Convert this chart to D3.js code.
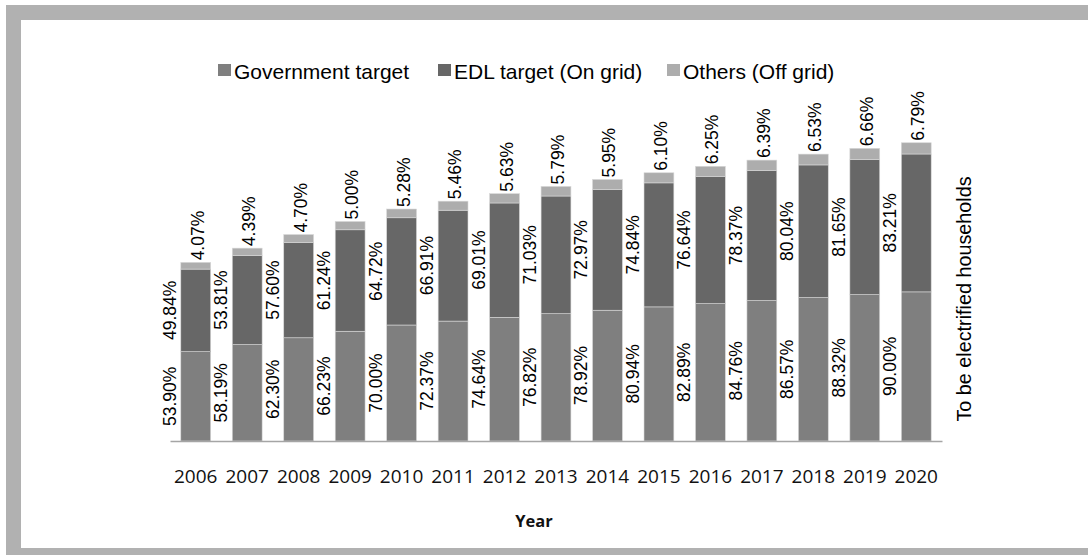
<!DOCTYPE html>
<html>
<head>
<meta charset="utf-8">
<script src="https://cdn.jsdelivr.net/npm/d3@7"></script>
<style>
  html, body { margin: 0; padding: 0; background: #fff; }
  svg { display: block; }
</style>
</head>
<body>
<svg id="chart" width="1088" height="555"></svg>
<script>
// Household electrification targets by year (percent)
const years = ["2006","2007","2008","2009","2010","2011","2012","2013","2014","2015","2016","2017","2018","2019","2020"];
const governmentTarget = [53.90,58.19,62.30,66.23,70.00,72.37,74.64,76.82,78.92,80.94,82.89,84.76,86.57,88.32,90.00];
const edlTarget = [49.84,53.81,57.60,61.24,64.72,66.91,69.01,71.03,72.97,74.84,76.64,78.37,80.04,81.65,83.21];
const othersOffGrid = [4.07,4.39,4.70,5.00,5.28,5.46,5.63,5.79,5.95,6.10,6.25,6.39,6.53,6.66,6.79];
const seriesNames = ["Government target","EDL target (On grid)","Others (Off grid)"];
const seriesColors = ["#7f7f7f","#676767","#adadad"];

const svg = d3.select("#chart");
const labelFont = "'Liberation Sans', Arial, sans-serif";
const tickFont = "'Open Sans', sans-serif";

// frame
svg.append("rect").attr("x", 6).attr("y", 5).attr("width", 1082).attr("height", 15).attr("fill", "#b1b1b1");
svg.append("rect").attr("x", 6).attr("y", 5).attr("width", 15).attr("height", 550).attr("fill", "#b1b1b1");
svg.append("rect").attr("x", 6).attr("y", 548).attr("width", 1082).attr("height", 7).attr("fill", "#b1b1b1");

const rows = years.map((y, i) => ({
  year: y,
  gov: governmentTarget[i],
  edl: edlTarget[i],
  oth: othersOffGrid[i]
}));
const keys = ["gov", "edl", "oth"];
const stacked = d3.stack().keys(keys)(rows);

const x = d3.scaleBand().domain(years).range([170, 942]).paddingInner(0.42).paddingOuter(0.21);
const y = d3.scaleLinear().domain([0, 200]).range([441, 109.6]);

// bars
const g = svg.append("g");
stacked.forEach((layer, k) => {
  g.selectAll(null).data(layer).enter().append("rect")
    .attr("x", d => x(d.data.year))
    .attr("width", x.bandwidth())
    .attr("y", d => y(d[1]))
    .attr("height", d => y(d[0]) - y(d[1]))
    .attr("fill", seriesColors[k])
    .attr("stroke", "#d8d8d8")
    .attr("stroke-width", 0.6);
});

// x axis
const xAxis = svg.append("g").attr("transform", "translate(0,441)")
  .call(d3.axisBottom(x).tickSize(0).tickPadding(29));
xAxis.select(".domain").attr("stroke", "#a5a5a5").attr("stroke-width", 1.5);
xAxis.selectAll("text").attr("font-family", tickFont).attr("font-size", 19).attr("fill", "#111");

// value labels
const cx = d => x(d.data.year) + x.bandwidth() / 2;
function addLabels(layer, xOff, posFn, anchor) {
  svg.selectAll(null).data(layer).enter().append("text")
    .attr("transform", d => `translate(${cx(d) + xOff},${posFn(d)}) rotate(-90)`)
    .attr("text-anchor", anchor)
    .attr("dominant-baseline", "central")
    .attr("font-family", labelFont)
    .attr("font-size", 17.5)
    .attr("fill", "#000")
    .text(d => (d[1] - d[0]).toFixed(2) + "%");
}
addLabels(stacked[0], -26, d => (y(d[0]) + y(d[1])) / 2, "middle");
addLabels(stacked[1], -26, d => (y(d[0]) + y(d[1])) / 2, "middle");
addLabels(stacked[2], 2, d => y(d[1]) - 2, "start");

// axis titles
svg.append("text").attr("x", 534).attr("y", 520).attr("text-anchor", "middle")
  .attr("dominant-baseline", "central")
  .attr("font-family", tickFont).attr("font-weight", "bold").attr("font-size", 16.5)
  .attr("fill", "#111").text("Year");
svg.append("text").attr("transform", "translate(964,299) rotate(-90)")
  .attr("text-anchor", "middle").attr("dominant-baseline", "central")
  .attr("font-family", labelFont).attr("font-size", 19.8)
  .attr("fill", "#000").text("To be electrified households");

// legend
const legendX = [218, 438, 667];
const legend = svg.append("g");
seriesNames.forEach((name, i) => {
  legend.append("rect").attr("x", legendX[i]).attr("y", 64).attr("width", 13).attr("height", 12)
    .attr("fill", seriesColors[i]);
  legend.append("text").attr("x", legendX[i] + 16).attr("y", 71)
    .attr("dominant-baseline", "central")
    .attr("font-family", labelFont).attr("font-size", 21).attr("fill", "#000")
    .text(name);
});
</script>
</body>
</html>
